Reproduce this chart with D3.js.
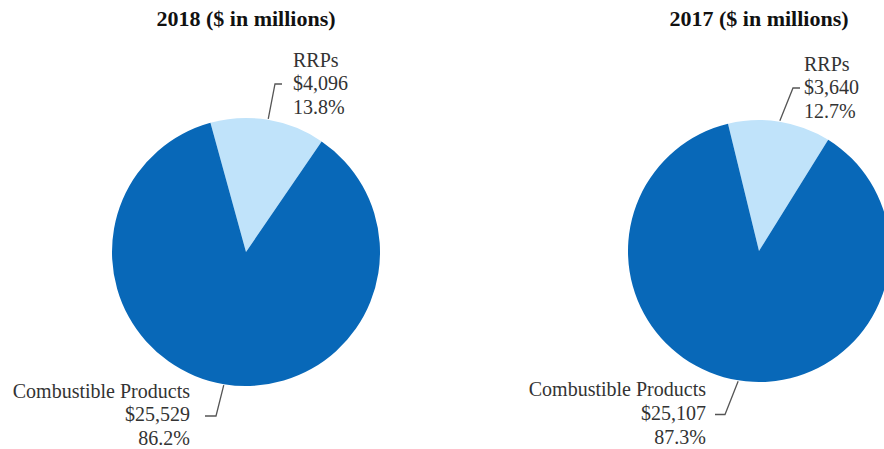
<!DOCTYPE html>
<html>
<head>
<meta charset="utf-8">
<script src="https://cdn.jsdelivr.net/npm/d3@7/dist/d3.min.js"></script>
<style>
  html, body { margin: 0; padding: 0; background: #fff; }
  svg { display: block; }
  text { font-family: "Liberation Serif", "Times New Roman", serif; }
</style>
</head>
<body>
<svg id="chart" width="884" height="449"></svg>
<script>
// ---- data ----
const categories = ["RRPs", "Combustible Products"];
const years = ["2018", "2017"];
const values2018 = [4096, 25529];
const values2017 = [3640, 25107];
const pct2018 = ["13.8%", "86.2%"];
const pct2017 = ["12.7%", "87.3%"];
const colors = ["#C0E3FA", "#0868B8"];

// ---- layout ----
const deg = Math.PI / 180;
const panels = [
  { year: years[0], values: values2018, pcts: pct2018, cx: 246, cy: 252, r: 134, start: -15.4,
    rrp: { x: 293, y: [66.5, 90, 114], elbow: [275, 84], end: [282, 84] },
    comb: { x: 190, y: [397.5, 421, 445], elbow: [216, 416], end: [205, 416] } },
  { year: years[1], values: values2017, pcts: pct2017, cx: 759, cy: 251, r: 131, start: -13.7,
    rrp: { x: 804, y: [70.5, 94, 118], elbow: [793, 88], end: [800, 88] },
    comb: { x: 706, y: [396, 419.5, 443.5], elbow: [725, 414.5], end: [715, 414.5] } }
];

const svg = d3.select("#chart");
const fmt = d3.format("$,");

panels.forEach(p => {
  const g = svg.append("g").attr("transform", `translate(${p.cx},${p.cy})`);
  const pie = d3.pie().sort(null)
    .startAngle(p.start * deg).endAngle(p.start * deg + 2 * Math.PI);
  const arcs = pie(p.values);
  const arc = d3.arc().innerRadius(0).outerRadius(p.r);

  g.selectAll("path").data(arcs).enter().append("path")
    .attr("d", arc)
    .attr("fill", (d, i) => colors[i]);

  // title
  svg.append("text")
    .attr("x", p.cx).attr("y", 26)
    .attr("text-anchor", "middle")
    .attr("font-weight", "bold")
    .attr("font-size", 22)
    .attr("fill", "#111")
    .text(`${p.year} ($ in millions)`);

  // labels + leaders
  const specs = [p.rrp, p.comb];
  arcs.forEach((a, i) => {
    const s = specs[i];
    const mid = (a.startAngle + a.endAngle) / 2;
    const ex = p.cx + Math.sin(mid) * (p.r + 1);
    const ey = p.cy - Math.cos(mid) * (p.r + 1);
    svg.append("path")
      .attr("d", `M${s.end[0]},${s.end[1]}L${s.elbow[0]},${s.elbow[1]}L${ex},${ey}`)
      .attr("fill", "none")
      .attr("stroke", "#555")
      .attr("stroke-width", 1.3);
    const lines = [categories[i], fmt(p.values[i]), p.pcts[i]];
    const anchor = i === 0 ? "start" : "end";
    lines.forEach((t, k) => {
      svg.append("text")
        .attr("x", s.x).attr("y", s.y[k])
        .attr("text-anchor", anchor)
        .attr("font-size", 20)
        .attr("fill", "#333")
        .text(t);
    });
  });
});
</script>
</body>
</html>
